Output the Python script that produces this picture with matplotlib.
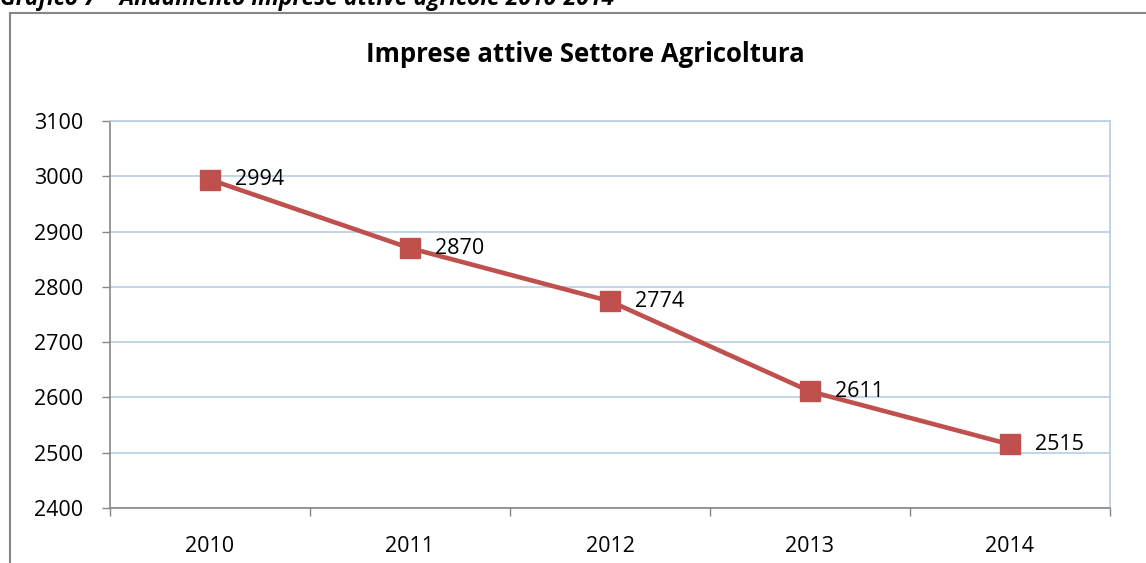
import matplotlib
matplotlib.use("Agg")
from matplotlib import pyplot as plt
from matplotlib.lines import Line2D

years = ["2010", "2011", "2012", "2013", "2014"]
imprese = [2994, 2870, 2774, 2611, 2515]
yticks = [2400, 2500, 2600, 2700, 2800, 2900, 3000, 3100]

plt.rcParams['font.family'] = ['Open Sans', 'DejaVu Sans']

W, H = 1146, 563
fig = plt.figure(figsize=(W / 100, H / 100), dpi=100)
ax = fig.add_axes([110 / W, 1 - 508 / H, 1000 / W, (508 - 121) / H])

grey = '#868686'
grid = '#b9cde5'
red = '#c0504d'

# cornice esterna del grafico (tagliata a destra e in basso)
fig.add_artist(Line2D([10 / W, 10 / W], [1 - 13 / H, 0], transform=fig.transFigure,
                      color=grey, lw=1.5))
fig.add_artist(Line2D([10 / W, 1], [1 - 13 / H, 1 - 13 / H], transform=fig.transFigure,
                      color=grey, lw=1.5))

# didascalia tagliata in alto, come nell'originale
fig.text(0.0, 1 - 5 / H, "Grafico 7 \u2013 Andamento imprese attive agricole 2010-2014",
         fontsize=16.5, fontweight='bold', fontstyle='italic', va='baseline', ha='left')

x = [i + 0.5 for i in range(len(years))]
ax.plot(x, imprese, color=red, lw=3.3, marker='s', markersize=14, zorder=3)
for xi, v in zip(x, imprese):
    ax.annotate(str(v), (xi, v), xytext=(18, 0), textcoords='offset points',
                ha='left', va='center', fontsize=15.5)

ax.set_xlim(0, len(years))
ax.set_ylim(2400, 3100)
ax.set_yticks(yticks)
ax.set_yticklabels([str(t) for t in yticks], fontsize=15.5)
ax.set_xticks(range(len(years) + 1))
ax.set_xticklabels([])
ax.set_xticks(x, minor=True)
ax.set_xticklabels(years, minor=True, fontsize=15.5)
ax.tick_params(axis='x', which='major', direction='out', length=6, color=grey, width=1)
ax.tick_params(axis='x', which='minor', length=0, pad=20)
ax.tick_params(axis='y', direction='out', length=6, color=grey, width=1, pad=13)

ax.yaxis.grid(True, color=grid, lw=1.2)
ax.set_axisbelow(True)
for s in ['left', 'bottom']:
    ax.spines[s].set_color(grey)
    ax.spines[s].set_linewidth(1.2)
for s in ['top', 'right']:
    ax.spines[s].set_color(grid)
    ax.spines[s].set_linewidth(1.2)

fig.text(585 / W, 1 - 55 / H, "Imprese attive Settore Agricoltura", fontsize=18.5,
         fontweight='bold', ha='center', va='center')

fig.savefig("out.png", dpi=100)
